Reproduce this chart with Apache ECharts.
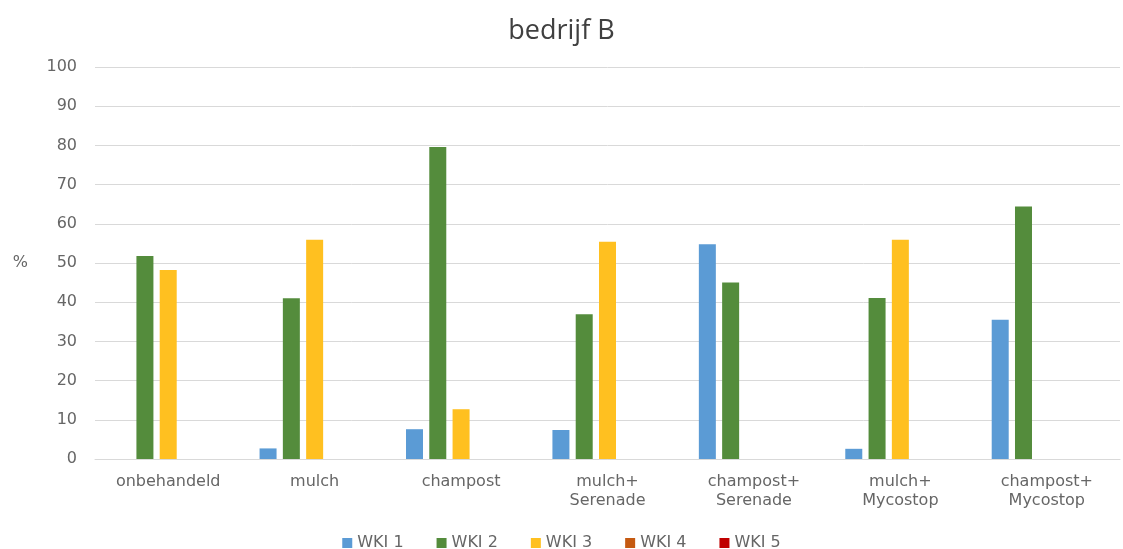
<!DOCTYPE html>
<html>
<head>
<meta charset="utf-8">
<script src="https://cdn.jsdelivr.net/npm/echarts@6/dist/echarts.min.js"></script>
<style>html,body{margin:0;padding:0;background:#fff}#c{width:1123px;height:549px}</style>
</head>
<body>
<div id="c"></div>
<script>
const categories = ['onbehandeld','mulch','champost','mulch+\nSerenade','champost+\nSerenade','mulch+\nMycostop','champost+\nMycostop'];
const wki1 = [0, 2.7, 7.6, 7.4, 54.8, 2.6, 35.5];
const wki2 = [51.8, 41, 79.6, 36.9, 45, 41.1, 64.4];
const wki3 = [48.2, 55.9, 12.7, 55.4, 0, 55.9, 0];
const wki4 = [0, 0, 0, 0, 0, 0, 0];
const wki5 = [0, 0, 0, 0, 0, 0, 0];
const seriesNames = ['WKI 1','WKI 2','WKI 3','WKI 4','WKI 5'];
const colors = ['#5B9BD5','#548C3C','#FFC020','#C55A11','#C00000'];
const yTicks = {min:0, max:100, interval:10};

const font = 'DejaVu Sans';
const chart = echarts.init(document.getElementById('c'));
const data = [wki1, wki2, wki3, wki4, wki5];
chart.setOption({
  animation:false,
  color: colors,
  title:{text:'bedrijf B', left:'center', top:13, textStyle:{fontFamily:'Open Sans', fontSize:27, fontWeight:'normal', color:'#404040'}},
  grid:{left:95, right:3, top:67, bottom:90},
  legend:{top:530, left:'center', itemWidth:10, itemHeight:10, itemGap:33, icon:'rect',
    textStyle:{fontFamily:font, fontSize:16, color:'#666666'}, data: seriesNames},
  xAxis:{type:'category', data:categories,
    axisLine:{lineStyle:{color:'#d9d9d9'}}, axisTick:{show:false},
    axisLabel:{fontFamily:font, fontSize:16, color:'#666666', margin:13, lineHeight:19, interval:0}},
  yAxis:{type:'value', min:yTicks.min, max:yTicks.max, interval:yTicks.interval,
    name:'%', nameLocation:'middle', nameRotate:0, nameGap:67,
    nameTextStyle:{fontFamily:font, fontSize:16, color:'#666666'},
    axisLine:{show:false}, axisTick:{show:false},
    axisLabel:{fontFamily:font, fontSize:16, color:'#666666', margin:18},
    splitLine:{lineStyle:{color:'#d9d9d9', width:1}}},
  series: seriesNames.map((n,i)=>({name:n, type:'bar', data:data[i], barWidth:17, barGap:'37%', barCategoryGap:'25%'}))
});
</script>
</body>
</html>
